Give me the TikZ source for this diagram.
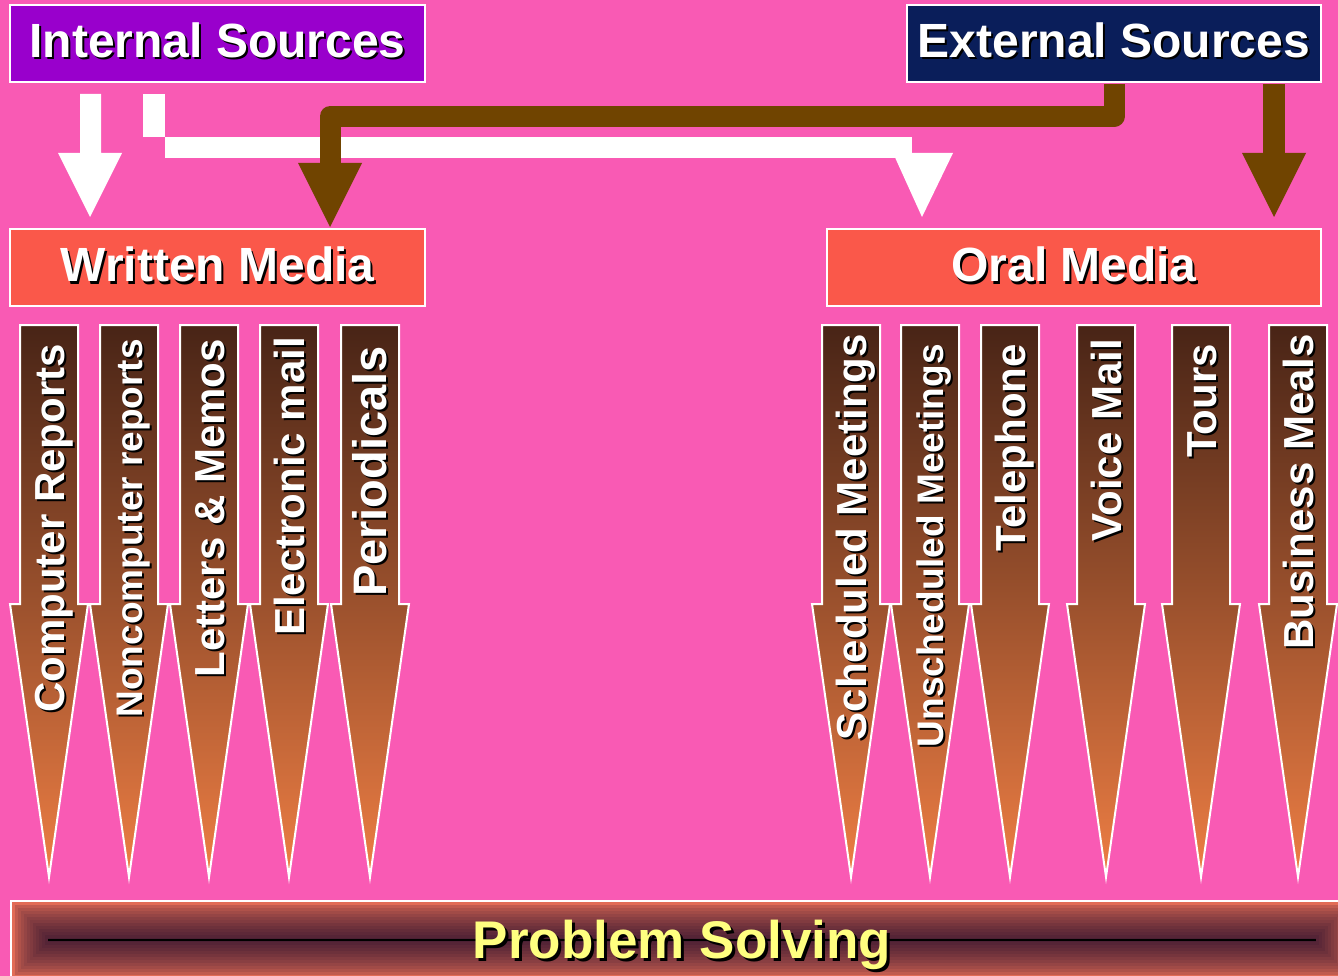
\documentclass[tikz,border=0pt]{standalone}
\usepackage{fontspec}
\setmainfont{Liberation Sans}
\definecolor{bgpink}{RGB}{249,90,180}
\definecolor{intpurple}{RGB}{153,0,204}
\definecolor{extnavy}{RGB}{10,30,90}
\definecolor{mediared}{RGB}{250,88,74}
\definecolor{linkbrown}{RGB}{112,68,0}
\definecolor{fantop}{RGB}{72,36,22}
\definecolor{fanbot}{RGB}{238,126,68}
\definecolor{barout}{RGB}{226,108,86}
\definecolor{barin}{RGB}{76,32,52}
\definecolor{solveyellow}{RGB}{255,255,128}
% text with a black drop shadow: #1 = shift along the line, #2 = drop below it
\newcommand\shadowed[3]{\rlap{\kern#1\raisebox{-#2}{\color{black}#3}}#3}
\tikzset{
  headbox/.style={draw=white, line width=2pt, inner sep=0pt, text=white,
    font=\fontsize{48}{48}\selectfont\bfseries, text height=35pt, text depth=6pt},
  fanarrow/.style={draw=white, line width=2pt, line join=miter,
    top color=fantop, bottom color=fanbot},
  fanlabel/.style={text=white, rotate=90, anchor=base east, inner sep=0pt},
  whitelink/.style={fill=white},
  brownlink/.style={draw=linkbrown, line width=21pt, line join=round},
  brownhead/.style={fill=linkbrown},
}
\begin{document}
\begin{tikzpicture}[x=1pt,y=-1pt]
\useasboundingbox (0,0) rectangle (1338,976);
\fill[bgpink] (0,0) rectangle (1338,976);

% source and media boxes
\node[headbox, fill=intpurple, minimum width=415pt, minimum height=77pt]
  (internal) at (217.5,43.5) {\shadowed{2pt}{2pt}{Internal Sources}};
\node[headbox, fill=extnavy, minimum width=414pt, minimum height=77pt]
  (external) at (1114,43.5) {\shadowed{2pt}{2pt}{External Sources}};
\node[headbox, fill=mediared, minimum width=415pt, minimum height=77pt]
  (written) at (217.5,267.5) {\shadowed{2pt}{2pt}{Written Media}};
\node[headbox, fill=mediared, minimum width=494pt, minimum height=77pt]
  (oral) at (1074,267.5) {\shadowed{2pt}{2pt}{Oral Media}};

% white links from internal sources
\fill[whitelink] (80,94) -- (101,94) -- (101,153) -- (122,153) -- (90,217)
  -- (58,153) -- (80,153) -- cycle;
\fill[whitelink] (143,94) rectangle (165,137);
\fill[whitelink] (165,137) rectangle (912,158);
\fill[whitelink] (893,153) -- (953,153) -- (922,217) -- cycle;

% brown links from external sources
\coordinate (extdrop) at (1114,84);
\coordinate (writtenin) at (330,163);
\draw[brownlink] (extdrop) -- (1114,116.5) -- (330,116.5) -- (writtenin);
\fill[brownhead] (298,163) -- (362,163) -- (330,227) -- cycle;
\fill[brownhead] (1263,84) rectangle (1285,153);
\fill[brownhead] (1242,153) -- (1306,153) -- (1274,217) -- cycle;

% media channels
\foreach \cx/\lab/\fs/\ty [count=\n] in {
  49/Computer Reports/42/344,
  129/Noncomputer reports/37/339,
  209/Letters \& Memos/42/339,
  289/Electronic mail/42/337,
  370/Periodicals/47/346,
  851/Scheduled Meetings/42/334,
  930/Unscheduled Meetings/37/344,
  1010/Telephone/42/344,
  1106/Voice Mail/42/339,
  1201/Tours/42/344,
  1298/Business Meals/42/334} {
  \draw[fanarrow] (\cx-29,325) -- (\cx+29,325) -- (\cx+29,604) -- (\cx+39,604)
    -- (\cx,877) -- (\cx-39,604) -- (\cx-29,604) -- cycle;
  \pgfmathsetmacro\bx{\cx+0.36*\fs}
  \node[fanlabel, font=\fontsize{\fs}{\fs}\selectfont\bfseries]
    (chan\n) at (\bx,\ty) {\shadowed{-2pt}{2pt}{\lab}};
}

% problem solving bar: nested frames darkening towards the centre line
\foreach \i in {0,...,12} {
  \pgfmathtruncatemacro\p{100*(\i/12)^0.6}
  \pgfmathsetmacro\d{3*\i}
  \fill[barin!\p!barout] (12+\d,902+\d) rectangle (1352-\d,978-\d);
}
\draw[black, line width=2.5pt] (48,940) -- (1316,940);
\draw[white, line width=2pt] (11,979) -- (11,901) -- (1340,901);
\node[text=solveyellow, anchor=base, inner sep=0pt,
  font=\fontsize{53}{53}\selectfont\bfseries]
  (solving) at (682,958) {\shadowed{3pt}{3pt}{Problem Solving}};
\end{tikzpicture}
\end{document}
